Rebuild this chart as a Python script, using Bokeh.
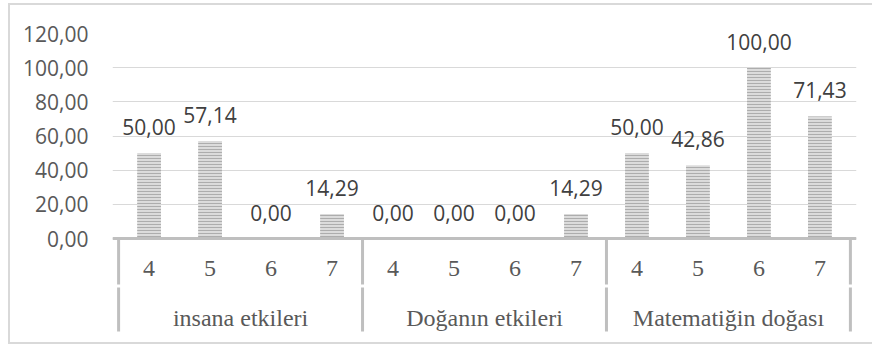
from bokeh.plotting import figure
from bokeh.models import (FactorRange, ColumnDataSource, LabelSet, FixedTicker,
                          Range1d, InlineStyleSheet)
from bokeh.core.properties import value
from bokeh.embed import file_html
from bokeh.resources import INLINE

groups = ["insana etkileri", "Doğanın etkileri", "Matematiğin doğası"]
grades = ["4", "5", "6", "7"]
insana_etkileri = [50.00, 57.14, 0.00, 14.29]
doganin_etkileri = [0.00, 0.00, 0.00, 14.29]
matematigin_dogasi = [50.00, 42.86, 100.00, 71.43]
y_ticks = [0, 20, 40, 60, 80, 100, 120]
y_tick_labels = ["0,00", "20,00", "40,00", "60,00", "80,00", "100,00", "120,00"]

factors = [(g, s) for g in groups for s in grades]
values = insana_etkileri + doganin_etkileri + matematigin_dogasi
labels = [f"{v:.2f}".replace(".", ",") for v in values]
src = ColumnDataSource(dict(x=factors, y=values, label=labels))

# layout: frame spans 33..333 px vertically; value axis 0..120 occupies the top 205 px
FRAME_TOP, FRAME_BOTTOM, ZERO_PX = 33, 333, 238
PX_PER_UNIT = (ZERO_PX - FRAME_TOP) / 120.0
Y_MIN = -(FRAME_BOTTOM - ZERO_PX) / PX_PER_UNIT

p = figure(width=872, height=347,
           x_range=FactorRange(*factors, factor_padding=0, group_padding=0,
                               range_padding=0.1, range_padding_units="absolute"),
           y_range=Range1d(Y_MIN, 120),
           output_backend="svg", toolbar_location=None,
           min_border_left=112, min_border_right=16, min_border_top=FRAME_TOP,
           min_border_bottom=347 - FRAME_BOTTOM)
p.outline_line_color = None
p.background_fill_color = "white"
p.border_fill_color = "white"

p.vbar(x="x", top="y", width=0.39, source=src, fill_color="#dcdcdc", line_color=None,
       hatch_pattern="horizontal_line", hatch_color="#adadad", hatch_scale=3, hatch_weight=1.1)

p.add_layout(LabelSet(x="x", y="y", text="label", source=src, text_align="center",
                      text_baseline="alphabetic", y_offset=18, text_font=value("Open Sans"),
                      text_font_size="21px", text_color="#404040"))

p.ygrid.grid_line_color = "#d9d9d9"
p.ygrid.grid_line_width = 1
p.xgrid.grid_line_color = None

ya = p.yaxis[0]
ya.ticker = FixedTicker(ticks=y_ticks)
ya.major_label_overrides = dict(zip(y_ticks, y_tick_labels))
ya.axis_line_color = None
ya.major_tick_line_color = None
ya.minor_tick_line_color = None
ya.major_label_standoff = 18
ya.major_label_text_font = "Open Sans"
ya.major_label_text_font_size = "21px"
ya.major_label_text_color = "#595959"

xa = p.xaxis[0]
xa.fixed_location = 0
xa.axis_line_color = "#bfbfbf"
xa.axis_line_width = 3
xa.major_tick_line_color = None
xa.major_tick_out = 0
xa.major_label_standoff = 22
xa.major_label_text_font = "Liberation Serif"
xa.major_label_text_font_size = "24px"
xa.major_label_text_color = "#595959"
xa.group_text_color = None
xa.separator_line_color = None

# group labels under the grade labels
GROUP_BASELINE_PX = 79
p.text(x=groups, y=[-GROUP_BASELINE_PX / PX_PER_UNIT] * len(groups), text=groups,
       text_align="center", text_baseline="alphabetic", text_font=value("Liberation Serif"),
       text_font_size="24px", text_color="#595959")

# group separators (with a small break between the two label rows), incl. outer edges
edges = [k * len(grades) for k in range(len(groups) + 1)]
SEP_BREAK_TOP, SEP_BREAK_BOTTOM, SEP_END = 46, 49, 93
for (a, b) in [(0, SEP_BREAK_TOP), (SEP_BREAK_BOTTOM, SEP_END)]:
    p.segment(x0=edges, x1=edges, y0=[-a / PX_PER_UNIT] * len(edges),
              y1=[-b / PX_PER_UNIT] * len(edges), line_color="#bfbfbf", line_width=3)

p.stylesheets = [InlineStyleSheet(css=":host{position:relative;overflow:hidden;} :host::after{content:'';position:absolute;left:8px;top:3px;width:900px;height:341px;border:2px solid #d9d9d9;box-sizing:border-box;pointer-events:none;}")]

open("out.html", "w").write(file_html(p, INLINE))
